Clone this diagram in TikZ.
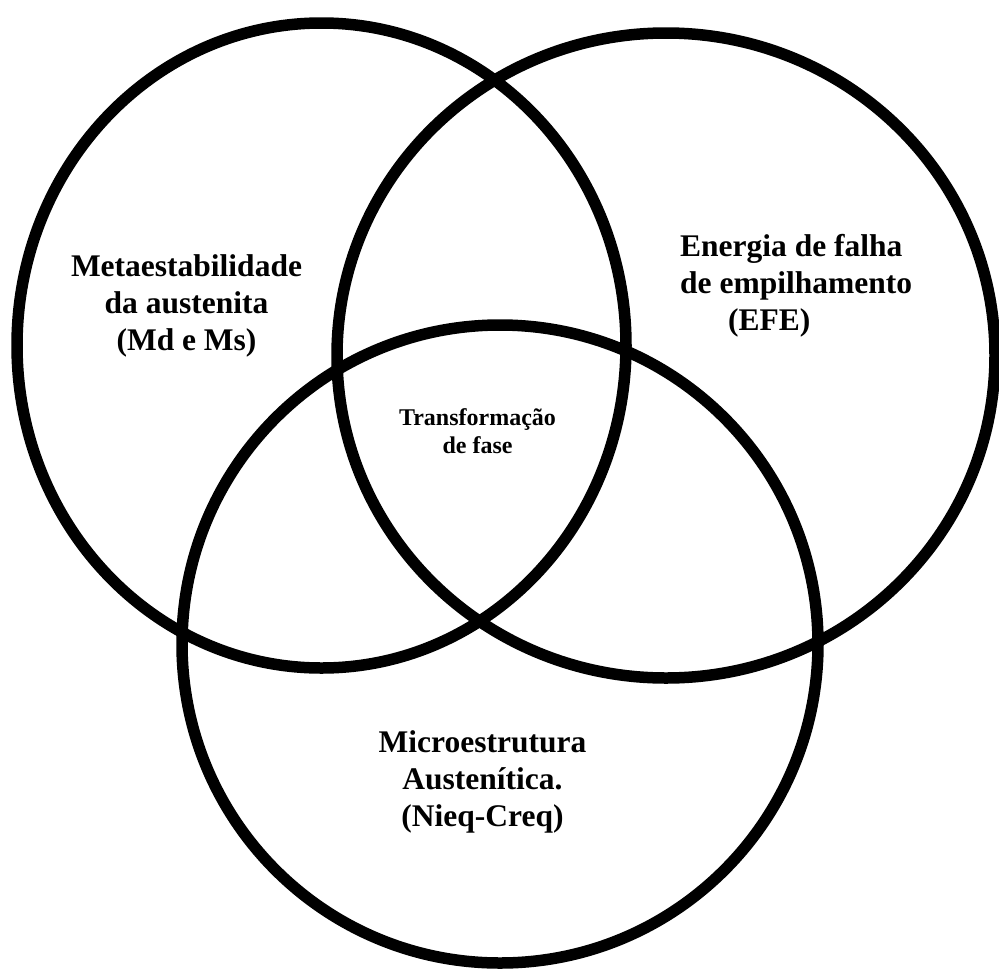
\documentclass[tikz,border=0pt]{standalone}
\usepackage{fontspec}
\setmainfont{Liberation Serif}
\begin{document}
\begin{tikzpicture}[x=1pt,y=-1pt,
  ring/.style={draw=black,line width=11.5pt},
  biglabel/.style={inner sep=0pt,font=\fontsize{31.5}{37}\selectfont\bfseries},
  smalllabel/.style={inner sep=0pt,font=\fontsize{24}{28.5}\selectfont\bfseries}]
  \useasboundingbox[fill=white] (0,0) rectangle (999,970);
  % the three overlapping sets
  \draw[ring] (321.5,345.5) ellipse [x radius=304.5, y radius=322.5];
  \draw[ring] (666,355.5) ellipse [x radius=329, y radius=322.5];
  \draw[ring] (500,644) ellipse [x radius=318, y radius=319];
  % set labels
  \node[biglabel,align=center] (meta) at (186.5,305.5)
    {Metaestabilidade\\da austenita\\(Md e Ms)};
  \node[biglabel,align=left,anchor=west] (efe) at (680,285.5)
    {Energia de falha\\de empilhamento\\\hspace*{48pt}(EFE)};
  \node[biglabel,align=center] (micro) at (482.5,781.5)
    {Microestrutura\\Austenítica.\\(Nieq-Creq)};
  \node[smalllabel,align=center] (trans) at (477.5,431)
    {Transformação\\de fase};
\end{tikzpicture}
\end{document}
